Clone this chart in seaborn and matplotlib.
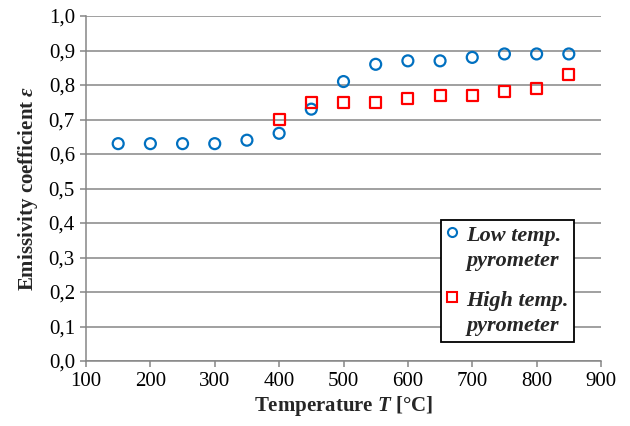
import matplotlib
matplotlib.use("Agg")
import matplotlib.pyplot as plt
import numpy as np
import seaborn as sns
from matplotlib.lines import Line2D
from matplotlib.legend_handler import HandlerLine2D
from matplotlib.ticker import FuncFormatter

# Data
temp_low = [150, 200, 250, 300, 350, 400, 450, 500, 550, 600, 650, 700, 750, 800, 850]
eps_low = [0.63, 0.63, 0.63, 0.63, 0.64, 0.66, 0.73, 0.81, 0.86, 0.87, 0.87, 0.88, 0.89, 0.89, 0.89]

temp_high = [400, 450, 500, 550, 600, 650, 700, 750, 800, 850]
eps_high = [0.70, 0.75, 0.75, 0.75, 0.76, 0.77, 0.77, 0.78, 0.79, 0.83]

x_ticks = list(range(100, 901, 100))
y_ticks = [round(v * 0.1, 1) for v in range(11)]

BLUE = "#0070C0"
RED = "#FF0000"
GRAY = "#868686"

sns.set_theme(style="white")
plt.rcParams.update({
    "font.family": ["Liberation Serif", "DejaVu Serif"],
    "mathtext.fontset": "custom",
    "mathtext.rm": "Liberation Serif",
    "mathtext.bf": "Liberation Serif:bold",
    "mathtext.it": "Liberation Serif:italic",
    "mathtext.bfit": "Liberation Serif:italic:bold",
})


class TopLineHandler(HandlerLine2D):
    """Put the legend marker next to the first line of a two-line label."""
    def create_artists(self, legend, orig_handle, xdescent, ydescent, width, height,
                       fontsize, trans):
        arts = super().create_artists(legend, orig_handle, xdescent, ydescent,
                                      width, height, fontsize, trans)
        for a in arts:
            a.set_ydata([y + 0.74 * fontsize for y in a.get_ydata()])
        return arts


fig = plt.figure(figsize=(6.3, 4.26), dpi=100)
ax = fig.add_axes([86 / 630, 1 - 361 / 426, 515 / 630, 345 / 426])

sns.scatterplot(x=temp_low, y=eps_low, ax=ax, marker="o", s=62,
                facecolor="none", edgecolor=BLUE, linewidth=1.6, zorder=3, legend=False)
sns.scatterplot(x=temp_high, y=eps_high, ax=ax, marker="s", s=62,
                facecolor="none", edgecolor=RED, linewidth=1.6, zorder=3, legend=False)

ax.set_xlim(100, 900)
ax.set_ylim(0, 1.0)
ax.set_xticks(x_ticks)
ax.set_yticks(y_ticks)
ax.yaxis.set_major_formatter(FuncFormatter(lambda v, p: f"{v:.1f}".replace(".", ",")))

ax.grid(axis="y", color=GRAY, linewidth=1.1)
ax.set_axisbelow(True)
for side in ["top", "right"]:
    ax.spines[side].set_visible(False)
for side in ["left", "bottom"]:
    ax.spines[side].set_color(GRAY)
    ax.spines[side].set_linewidth(1.1)

ax.tick_params(axis="both", direction="out", length=4, width=1.1, color=GRAY,
               labelsize=15, labelcolor="black", pad=4)
ax.tick_params(axis="y", left=True)
ax.tick_params(axis="x", bottom=True)

ax.set_xlabel("Temperature $\\mathbfit{T}$ [°C]", fontsize=15, fontweight="bold", labelpad=2)
ax.set_ylabel("Emissivity coefficient $\\mathbfit{ε}$", fontsize=15, fontweight="bold", labelpad=6)

handles = [
    Line2D([], [], linestyle="none", marker="o", markersize=6.5, markerfacecolor="none",
           markeredgecolor=BLUE, markeredgewidth=1.5),
    Line2D([], [], linestyle="none", marker="s", markersize=6.5, markerfacecolor="none",
           markeredgecolor=RED, markeredgewidth=1.5),
]
labels = ["Low temp.\npyrometer", "High temp.\npyrometer"]
leg = ax.legend(handles, labels, loc="lower right", bbox_to_anchor=(0.948, 0.055),
                borderaxespad=0, frameon=True, fancybox=False, edgecolor="black",
                framealpha=1, handler_map={Line2D: TopLineHandler()},
                prop={"family": "Liberation Serif", "weight": "bold", "style": "italic", "size": 16},
                handletextpad=0.4, handlelength=0.5, borderpad=0.25, labelspacing=0.9)
for t in leg.get_texts():
    t.set_linespacing(1.35)
leg.get_frame().set_linewidth(1.3)

fig.savefig("out.png", dpi=100)
